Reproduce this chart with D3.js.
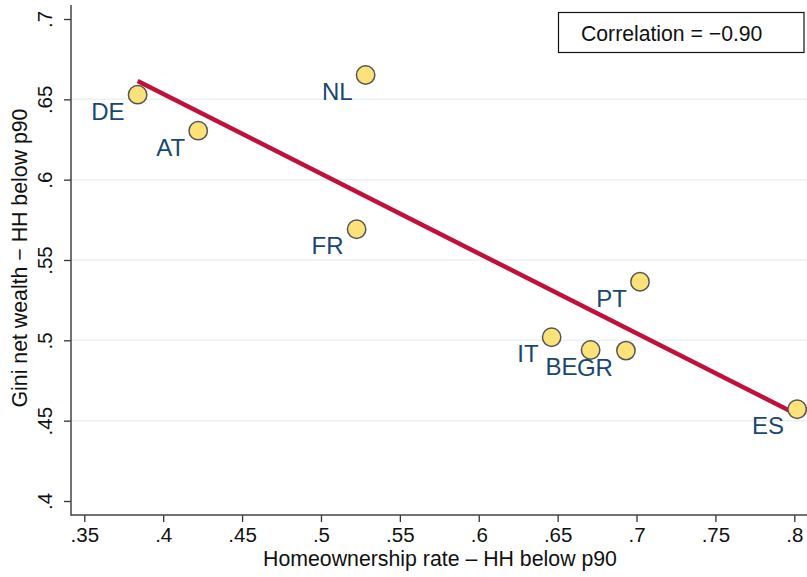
<!DOCTYPE html>
<html>
<head>
<meta charset="utf-8">
<script src="https://cdn.jsdelivr.net/npm/d3@7"></script>
<style>
html,body{margin:0;padding:0;background:#fff;}
svg{display:block;font-family:"Liberation Sans",Arial,Helvetica,sans-serif;}
</style>
</head>
<body>
<svg id="chart" width="807" height="577"></svg>
<script>
const countries = ["DE","AT","FR","NL","PT","IT","BE","GR","ES"];
const homeownership = [0.3838,0.4222,0.5226,0.5283,0.7022,0.6462,0.6709,0.6933,0.8018];
const gini = [0.6529,0.6305,0.5691,0.6651,0.5365,0.5019,0.4940,0.4936,0.4571];
const xTicks = [0.35,0.4,0.45,0.5,0.55,0.6,0.65,0.7,0.75,0.8];
const yTicks = [0.4,0.45,0.5,0.55,0.6,0.65,0.7];
const yGrid = [0.45,0.5,0.55,0.6,0.65];
const correlationText = "Correlation = \u22120.90";
const xTitle = "Homeownership rate \u2013 HH below p90";
const yTitle = "Gini net wealth \u2212 HH below p90";

const svg = d3.select("#chart");
const x = d3.scaleLinear().domain([0.35,0.8]).range([84.3,794.3]);
const y = d3.scaleLinear().domain([0.4,0.7]).range([501,19]);
const plotL = 71, plotB = 515, plotT = 5, plotR = 807;
const fmt = v => String(+v.toFixed(2)).replace(/^0\./,".");

// grid
svg.append("g").selectAll("line").data(yGrid).join("line")
  .attr("x1",plotL).attr("x2",plotR)
  .attr("y1",d=>y(d)).attr("y2",d=>y(d))
  .attr("stroke","#eaf2f3").attr("stroke-width",1.5);

// axes
const xAxis = d3.axisBottom(x).tickValues(xTicks).tickFormat(fmt).tickSize(7).tickPadding(5);
const gx = svg.append("g").attr("transform",`translate(0,${plotB})`).call(xAxis);
gx.select(".domain").remove();
gx.selectAll(".tick line").attr("stroke","#333").attr("stroke-width",1.3);
gx.selectAll(".tick text").attr("font-size",20.5).attr("fill","#111").attr("font-family","Liberation Sans, Arial, sans-serif");

const yAxis = d3.axisLeft(y).tickValues(yTicks).tickFormat(fmt).tickSize(7).tickPadding(0);
const gy = svg.append("g").attr("transform",`translate(${plotL},0)`).call(yAxis);
gy.select(".domain").remove();
gy.selectAll(".tick line").attr("stroke","#333").attr("stroke-width",1.3);
gy.selectAll(".tick text")
  .attr("font-size",20.5).attr("fill","#111").attr("font-family","Liberation Sans, Arial, sans-serif")
  .attr("x",0).attr("dy",null).attr("text-anchor","middle")
  .attr("transform","translate(-19,0) rotate(-90)");

svg.append("line").attr("x1",plotL).attr("x2",plotL).attr("y1",plotT).attr("y2",plotB+0.75)
  .attr("stroke","#444").attr("stroke-width",1.5);
svg.append("line").attr("x1",plotL).attr("x2",plotR).attr("y1",plotB).attr("y2",plotB)
  .attr("stroke","#444").attr("stroke-width",1.5);

// regression line (OLS from data)
const n = homeownership.length;
const mx = d3.mean(homeownership), my = d3.mean(gini);
let sxy=0,sxx=0;
for(let i=0;i<n;i++){sxy+=(homeownership[i]-mx)*(gini[i]-my);sxx+=(homeownership[i]-mx)**2;}
const b = sxy/sxx, a = my-b*mx;
const [xmin,xmax] = d3.extent(homeownership);
svg.append("line")
  .attr("x1",x(xmin)).attr("y1",y(a+b*xmin))
  .attr("x2",x(xmax)).attr("y2",y(a+b*xmax))
  .attr("stroke","#c1103a").attr("stroke-width",4.5).attr("stroke-linecap","butt");

// points
const pts = countries.map((c,i)=>({c,x:homeownership[i],y:gini[i]}));
svg.append("g").selectAll("circle").data(pts).join("circle")
  .attr("cx",d=>x(d.x)).attr("cy",d=>y(d.y)).attr("r",9.2)
  .attr("fill","#fde27a").attr("stroke","#555").attr("stroke-width",1.5);

// labels
svg.append("g").selectAll("text").data(pts).join("text")
  .attr("x",d=>x(d.x)-13).attr("y",d=>y(d.y)+25)
  .attr("text-anchor","end").attr("font-size",24).attr("fill","#1a476f")
  .text(d=>d.c);

// correlation box
svg.append("rect").attr("x",558.5).attr("y",12.5).attr("width",245.5).attr("height",40)
  .attr("fill","#fff").attr("stroke","#111").attr("stroke-width",1.2);
svg.append("text").attr("x",581).attr("y",41).attr("font-size",21.2).attr("fill","#111")
  .text(correlationText);

// titles
svg.append("text").attr("x",440).attr("y",566).attr("text-anchor","middle")
  .attr("font-size",21.3).attr("fill","#111").text(xTitle);
svg.append("text").attr("transform","translate(27,258) rotate(-90)").attr("text-anchor","middle")
  .attr("font-size",21.3).attr("fill","#111").text(yTitle);
</script>
</body>
</html>
